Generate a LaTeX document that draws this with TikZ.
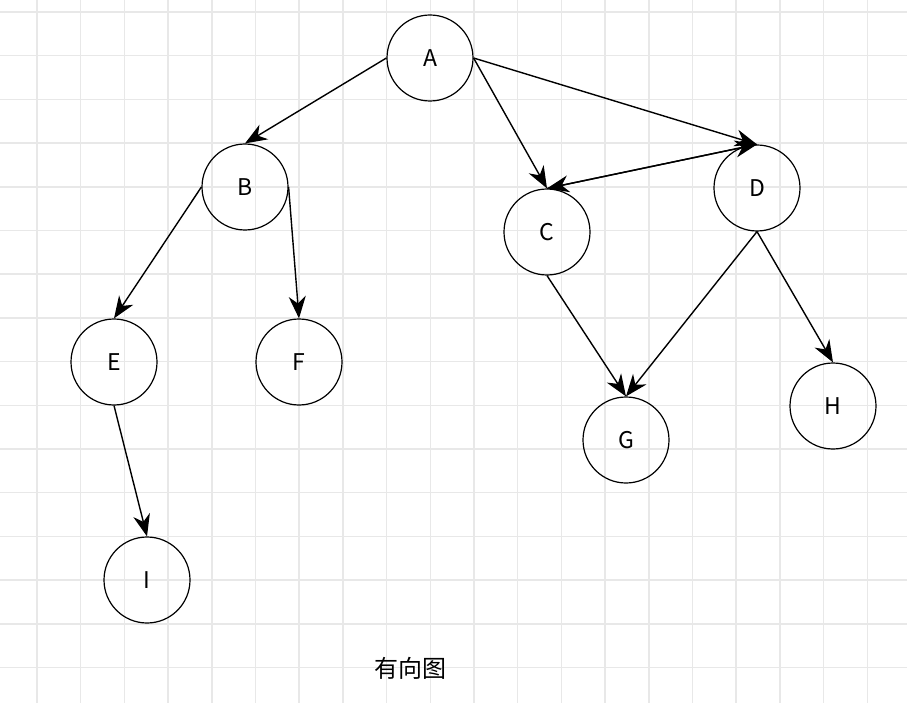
\documentclass[tikz,border=0pt]{standalone}
\usepackage{fontspec}
\setmainfont{Noto Sans CJK SC}
\usetikzlibrary{arrows.meta}
\begin{document}
\begin{tikzpicture}[x=1pt,y=-1pt,
    vertex/.style={circle, draw, line width=1.2pt, minimum size=86pt, inner sep=0pt, font=\fontsize{23}{23}\selectfont},
    edge/.style={line width=1.4pt, -{Stealth[length=22pt,width=17pt,inset=7pt]}}]
    \useasboundingbox (0,0) rectangle (907,703);
    % grid
    \foreach \x in {0,...,20} \draw[gray!18, line width=1.5pt] (37+43.7*\x,0) -- (37+43.7*\x,703);
    \foreach \y in {0,...,15} \draw[gray!18, line width=1.5pt] (0,12+43.7*\y) -- (907,12+43.7*\y);

    \node[vertex] (A) at (430,58) {A};
    \node[vertex] (B) at (245,187) {B};
    \node[vertex] (C) at (547,232) {C};
    \node[vertex] (D) at (757,188) {D};
    \node[vertex] (E) at (114,362) {E};
    \node[vertex] (F) at (299,362) {F};
    \node[vertex] (G) at (626,440) {G};
    \node[vertex] (H) at (833,406) {H};
    \node[vertex] (I) at (147,580) {I};

    \draw[edge] (A.west) -- (B.north);
    \draw[edge] (A.east) -- (C.north);
    \draw[edge] (A.east) -- (D.north);
    \draw[edge] (D.north) -- (C.north);
    \draw[edge] (C.north) -- (D.north);
    \draw[edge] (B.west) -- (E.north);
    \draw[edge] (B.east) -- (F.north);
    \draw[edge] (C.south) -- (G.north);
    \draw[edge] (D.south) -- (G.north);
    \draw[edge] (D.south) -- (H.north);
    \draw[edge] (E.south) -- (I.north);

    \node[font=\fontsize{24}{24}\selectfont] (title) at (410,668) {有向图};
\end{tikzpicture}
\end{document}
